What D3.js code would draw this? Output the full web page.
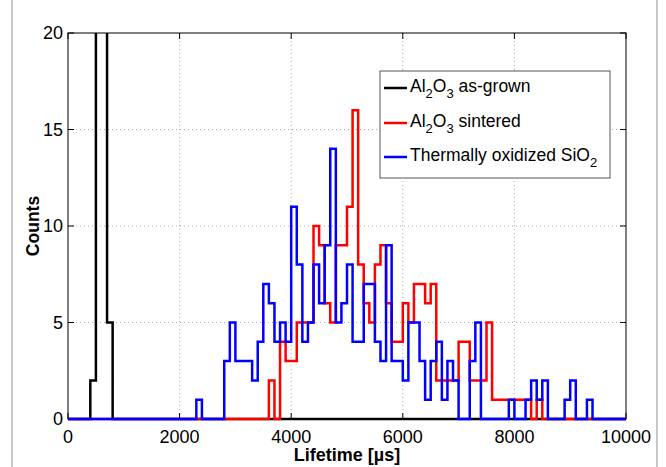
<!DOCTYPE html>
<html><head><meta charset="utf-8">
<script src="https://cdn.jsdelivr.net/npm/d3@7"></script>
<style>body{margin:0;background:#fff}svg{display:block}</style>
</head><body><svg id="c" width="666" height="467"></svg>
<script>
// ---- data (100 µs bins; bins not listed are 0) ----
const binWidth = 100;
const asGrownBins   = [400, 500, 600, 700];
const asGrownCounts = [2, 45, 38, 5];
const sinteredBins   = [3600,3800,3900,4000,4100,4200,4300,4400,4500,4600,4700,4800,4900,5000,5100,5200,5300,5400,5500,5600,5700,5800,5900,6000,6100,6200,6300,6400,6500,6600,6700,6800,6900,7000,7100,7200,7300,7400,7500,7600,7700,7800,7900,8000,8100,8200,8400];
const sinteredCounts = [2,4,3,3,5,5,5,10,9,6,5,9,9,11,16,8,6,5,8,9,6,4,4,6,5,7,7,6,7,2,2,2,2,4,4,2,2,2,5,1,1,1,1,1,1,1,1];
const oxideBins   = [2300,2800,2900,3000,3100,3200,3300,3400,3500,3600,3700,3800,3900,4000,4100,4200,4300,4400,4500,4600,4700,4800,4900,5000,5100,5200,5300,5400,5500,5600,5700,5800,5900,6000,6100,6200,6300,6400,6500,6600,6700,6800,6900,7200,7300,7900,8200,8300,8400,8500,8900,9000,9300];
const oxideCounts = [1,3,5,3,3,3,2,4,7,6,4,5,4,11,8,4,5,8,6,9,14,5,6,8,4,4,7,7,4,3,9,3,3,2,5,5,3,1,3,4,1,3,2,3,5,1,1,2,1,2,1,2,1];
const seriesLabels = [["Al","2","O","3"," as-grown"],["Al","2","O","3"," sintered"],["Thermally oxidized SiO","2"]];
const seriesColors = ["#000000", "#ff0000", "#0000ff"];
const xTicks = [0, 2000, 4000, 6000, 8000, 10000];
const yTicks = [0, 5, 10, 15, 20];
const xDomain = [0, 10000];
const yDomain = [0, 20];

// ---- layout ----
const L = 68, R = 626, T = 33, B = 419;
const font = "'Liberation Sans', Arial, Helvetica, sans-serif";
const svg = d3.select("#c");
svg.append("rect").attr("width",666).attr("height",467).attr("fill","#fff");
// figure frame
svg.append("line").attr("x1",12).attr("x2",12).attr("y1",0).attr("y2",467).attr("stroke","#c8c8c8").attr("stroke-width",2);
svg.append("line").attr("x1",657).attr("x2",657).attr("y1",0).attr("y2",467).attr("stroke","#c8c8c8").attr("stroke-width",2);

const x = d3.scaleLinear().domain(xDomain).range([L, R]);
const y = d3.scaleLinear().domain(yDomain).range([B, T]);

// grid
const g = svg.append("g");
g.selectAll(".gx").data(xTicks.slice(1,-1)).join("line")
  .attr("x1",d=>x(d)).attr("x2",d=>x(d)).attr("y1",T).attr("y2",B)
  .attr("stroke","#aaa").attr("stroke-width",1).attr("stroke-dasharray","1,3");
g.selectAll(".gy").data(yTicks.slice(1,-1)).join("line")
  .attr("x1",L).attr("x2",R).attr("y1",d=>y(d)).attr("y2",d=>y(d))
  .attr("stroke","#aaa").attr("stroke-width",1).attr("stroke-dasharray","1,3");

// axes frame + inward ticks
svg.append("rect").attr("x",L).attr("y",T).attr("width",R-L).attr("height",B-T)
  .attr("fill","none").attr("stroke","#000").attr("stroke-width",1);
const tk = 6;
xTicks.forEach(v=>{
  svg.append("line").attr("x1",x(v)).attr("x2",x(v)).attr("y1",B).attr("y2",B-tk).attr("stroke","#000");
  svg.append("line").attr("x1",x(v)).attr("x2",x(v)).attr("y1",T).attr("y2",T+tk).attr("stroke","#000");
});
yTicks.forEach(v=>{
  svg.append("line").attr("x1",L).attr("x2",L+tk).attr("y1",y(v)).attr("y2",y(v)).attr("stroke","#000");
  svg.append("line").attr("x1",R).attr("x2",R-tk).attr("y1",y(v)).attr("y2",y(v)).attr("stroke","#000");
});

// tick labels
svg.selectAll(".xl").data(xTicks).join("text")
  .attr("x",d=>x(d)).attr("y",443).attr("text-anchor","middle")
  .attr("font-family",font).attr("font-size",18).text(d=>d);
svg.selectAll(".yl").data(yTicks).join("text")
  .attr("x",L-5).attr("y",d=>y(d)+6).attr("text-anchor","end")
  .attr("font-family",font).attr("font-size",18).text(d=>d);

// axis labels
svg.append("text").attr("x",(L+R)/2).attr("y",461).attr("text-anchor","middle")
  .attr("font-family",font).attr("font-size",18).attr("font-weight","bold").text("Lifetime [\u00b5s]");
svg.append("text").attr("transform",`translate(39,${(T+B)/2}) rotate(-90)`).attr("text-anchor","middle")
  .attr("font-family",font).attr("font-size",17.5).attr("font-weight","bold").text("Counts");

// stairs
svg.append("clipPath").attr("id","clip").append("rect")
  .attr("x",L-3).attr("y",T).attr("width",R-L+6).attr("height",B-T+4);
function stairs(bins, counts){
  const n = Math.round((xDomain[1]-xDomain[0])/binWidth);
  const arr = new Array(n).fill(0);
  bins.forEach((b,i)=>{ arr[Math.round(b/binWidth)] = counts[i]; });
  const pts = arr.map((c,i)=>[i*binWidth, c]);
  pts.push([xDomain[1], 0]);
  return pts;
}
const line = d3.line().x(d=>x(d[0])).y(d=>y(d[1])).curve(d3.curveStepAfter);
const all = [stairs(asGrownBins, asGrownCounts), stairs(sinteredBins, sinteredCounts), stairs(oxideBins, oxideCounts)];
const lg = svg.append("g").attr("clip-path","url(#clip)");
all.forEach((pts,i)=>{
  lg.append("path").attr("d",line(pts)).attr("fill","none")
    .attr("stroke",seriesColors[i]).attr("stroke-width",2.5).attr("stroke-linejoin","miter");
});

// legend
const lgX = 380, lgY = 71, lgW = 230, lgH = 107;
svg.append("rect").attr("x",lgX).attr("y",lgY).attr("width",lgW).attr("height",lgH)
  .attr("fill","#fff").attr("stroke","#555").attr("stroke-width",1);
const rowY = [88, 123, 157];
seriesLabels.forEach((parts,i)=>{
  svg.append("line").attr("x1",lgX+4).attr("x2",lgX+27).attr("y1",rowY[i]).attr("y2",rowY[i])
    .attr("stroke",seriesColors[i]).attr("stroke-width",2.5);
  const t = svg.append("text").attr("x",lgX+30).attr("y",rowY[i]+4)
    .attr("font-family",font).attr("font-size",17.5);
  parts.forEach((p,j)=>{
    const sub = /^[0-9]$/.test(p);
    t.append("tspan").attr("font-size",sub?13:17.5).attr("dy", sub?6:(j>0?-6:0)).text(p);
  });
});
</script></body></html>
